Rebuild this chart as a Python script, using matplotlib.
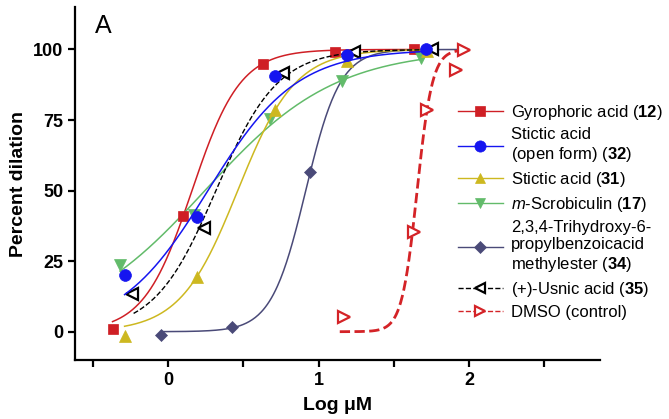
import numpy as np
import matplotlib
matplotlib.use("Agg")
import matplotlib.pyplot as plt

plt.rcParams['font.family'] = ['Liberation Sans', 'DejaVu Sans']
plt.rcParams['mathtext.fontset'] = 'custom'
plt.rcParams['mathtext.rm'] = 'Liberation Sans'
plt.rcParams['mathtext.bf'] = 'Liberation Sans:bold'
plt.rcParams['mathtext.it'] = 'Liberation Sans:italic'

# data (x = log uM, y = percent dilation)
labels = ["Gyrophoric acid ($\\bf{12}$)",
          "Stictic acid\n(open form) ($\\bf{32}$)",
          "Stictic acid ($\\bf{31}$)",
          "$\\it{m}$-Scrobiculin ($\\bf{17}$)",
          "2,3,4-Trihydroxy-6-\npropylbenzoicacid\nmethylester ($\\bf{34}$)",
          "(+)-Usnic acid ($\\bf{35}$)",
          "DMSO (control)"]

gyro_x = [-0.37, 0.10, 0.63, 1.11, 1.63]
gyro_y = [1, 41, 95, 99, 100]
stic_open_x = [-0.29, 0.19, 0.71, 1.19, 1.715]
stic_open_y = [20, 40.5, 90.5, 98, 100]
stic_x = [-0.29, 0.19, 0.71, 1.19, 1.72]
stic_y = [-1.5, 19.5, 78.5, 96, 99.5]
scrob_x = [-0.32, 0.17, 0.675, 1.155, 1.68]
scrob_y = [23.5, 41.3, 75.3, 89, 96.8]
trihyd_x = [-0.05, 0.425, 0.945]
trihyd_y = [-1.2, 1.6, 56.7]
usnic_x = [-0.24, 0.236, 0.764, 1.232, 1.753]
usnic_y = [13.2, 36.6, 91.7, 99.2, 100]
dmso_x = [1.166, 1.63, 1.72, 1.914, 1.963]
dmso_y = [5.3, 35.4, 78.5, 92.7, 99.8]

# fitted sigmoid curves: logEC50, hill slope, drawn range
ec50 = [0.158, 0.264, 0.462, 0.244, 0.914, 0.317, 1.654]
hill = [2.71, 1.48, 2.27, 1.0, 3.8, 2.12, 8.56]
fit_lo = [-0.37, -0.29, -0.29, -0.32, -0.05, -0.23, 1.14]
fit_hi = [1.63, 1.715, 1.72, 1.68, 1.95, 1.753, 1.963]

xs = [gyro_x, stic_open_x, stic_x, scrob_x, trihyd_x, usnic_x, dmso_x]
ys = [gyro_y, stic_open_y, stic_y, scrob_y, trihyd_y, usnic_y, dmso_y]

colors = ['#CF1F25', '#1515F0', '#CDB820', '#62BB6A', '#4A4A78', 'black', '#D42327']
markers = ['s', 'o', '^', 'v', 'D', '<', '>']
msizes = [7, 8.5, 8, 8, 6.5, 8, 8]
lstyles = ['-', '-', '-', '-', '-', '--', '--']
lwidths = [1.1, 1.1, 1.1, 1.1, 1.1, 1.0, 2.0]
zorders = [3, 6, 4, 3, 3, 5, 5]

fig = plt.figure(figsize=(6.69, 4.19), dpi=100)
ax = fig.add_axes([0.112, 0.141, 0.785, 0.842])

handles = []
for i in range(7):
    xf = np.linspace(fit_lo[i], fit_hi[i], 300)
    yf = 100 / (1 + 10 ** ((ec50[i] - xf) * hill[i]))
    ax.plot(xf, yf, color=colors[i], ls=lstyles[i], lw=lwidths[i], zorder=zorders[i])
    open_m = i >= 5
    ax.plot(xs[i], ys[i], ls='none', marker=markers[i], ms=msizes[i],
            mfc='white' if open_m else colors[i], mec=colors[i],
            mew=1.6 if open_m else 0.5, zorder=zorders[i] + 0.5)
    h, = ax.plot([], [], color=colors[i], ls=lstyles[i], lw=1.0,
                 marker=markers[i], ms=msizes[i] * 0.95,
                 mfc='white' if open_m else colors[i], mec=colors[i],
                 mew=1.6 if open_m else 0.5)
    handles.append(h)

ax.set_xlim(-0.62, 2.87)
ax.set_ylim(-10, 115)
ax.set_xticks([0, 1, 2])
ax.set_xticks([-0.5, 0.5, 1.5, 2.5], minor=True)
ax.set_yticks([0, 25, 50, 75, 100])
for s in ['top', 'right']:
    ax.spines[s].set_visible(False)
for s in ['left', 'bottom']:
    ax.spines[s].set_linewidth(1.6)
ax.tick_params(which='both', direction='out', width=1.6, length=5)
ax.tick_params(labelsize=13)
for t in ax.get_xticklabels() + ax.get_yticklabels():
    t.set_fontweight('bold')

ax.set_xlabel("Log μM", fontsize=14, fontweight='bold', labelpad=6)
ax.set_ylabel("Percent dilation", fontsize=14, fontweight='bold', labelpad=4)
ax.text(0.038, 0.926, "A", transform=ax.transAxes, fontsize=18, va='baseline')

fig.legend(handles, labels, loc='upper left', bbox_to_anchor=(0.684, 0.755),
           frameon=False, fontsize=12, handlelength=2.7, handletextpad=0.5,
           labelspacing=0.35, borderaxespad=0, borderpad=0)

fig.savefig("out.png", dpi=100)
